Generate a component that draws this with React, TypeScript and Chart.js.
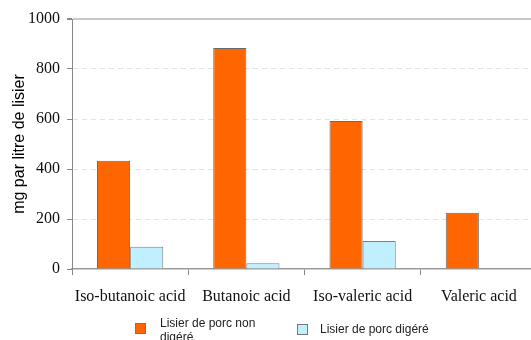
import React, { useEffect, useRef } from "react";
import { Chart, registerables } from "chart.js";

Chart.register(...registerables);

const categories = ["Iso-butanoic acid", "Butanoic acid", "Iso-valeric acid", "Valeric acid"];
const nonDigere = [433, 884, 592, 225];
const digere = [89, 23, 112, null];
const seriesNames = ["Lisier de porc non digéré", "Lisier de porc digéré"];
const yTicks = [0, 200, 400, 600, 800, 1000];
const yTitle = "mg par litre de lisier";

const ORANGE = "#FF6600";
const BLUE = "#C0F0FF";
const SERIF = "'Liberation Serif', 'Times New Roman', serif";
const SANS = "'Liberation Sans', Arial, sans-serif";

const legendPlugin = {
  id: "customLegend",
  afterDraw(chart: any) {
    const ctx = chart.ctx;
    ctx.save();
    ctx.font = "12px " + SANS;
    ctx.textBaseline = "middle";
    ctx.textAlign = "left";
    ctx.strokeStyle = "#777";
    ctx.lineWidth = 1;
    ctx.fillStyle = ORANGE;
    ctx.fillRect(135.5, 323.5, 10, 10);
    ctx.strokeRect(135.5, 323.5, 10, 10);
    ctx.fillStyle = "#222";
    ctx.fillText("Lisier de porc non", 160, 324);
    ctx.fillText("digéré", 160, 338);
    ctx.fillStyle = BLUE;
    ctx.fillRect(297.5, 324.5, 10, 10);
    ctx.strokeRect(297.5, 324.5, 10, 10);
    ctx.fillStyle = "#222";
    ctx.fillText("Lisier de porc digéré", 320, 330);
    ctx.restore();
  },
};

export default function App() {
  const ref = useRef<HTMLCanvasElement>(null);
  useEffect(() => {
    document.body.style.margin = "0";
    const chart = new Chart(ref.current!, {
      type: "bar",
      data: {
        labels: categories,
        datasets: [
          {
            label: seriesNames[0],
            data: nonDigere,
            backgroundColor: ORANGE,
            borderColor: "#6a6a6a",
            borderWidth: 1,
            categoryPercentage: 0.57,
            barPercentage: 1,
          },
          {
            label: seriesNames[1],
            data: digere as any,
            backgroundColor: BLUE,
            borderColor: "#808080",
            borderWidth: 1,
            categoryPercentage: 0.57,
            barPercentage: 1,
          },
        ],
      },
      options: {
        animation: false,
        responsive: false,
        layout: { padding: { top: 19, right: 8, bottom: 0, left: 0 } },
        plugins: {
          legend: { display: false },
          tooltip: { enabled: false },
        },
        scales: {
          x: {
            grid: {
              offset: true,
              drawOnChartArea: false,
              drawTicks: true,
              tickLength: 6,
              tickColor: "#888",
            },
            border: { display: true, color: "#999", width: 1.5 },
            ticks: {
              padding: 12,
              color: "#111",
              font: { family: SERIF, size: 16 },
              maxRotation: 0,
              autoSkip: false,
            },
            afterFit(scale: any) {
              scale.height = 71;
            },
          },
          y: {
            min: 0,
            max: 1000,
            afterBuildTicks(scale: any) {
              scale.ticks = yTicks.map((v) => ({ value: v }));
            },
            grid: {
              color: (c: any) => (c.tick && c.tick.value === 1000 ? "#c8c8c8" : c.tick && c.tick.value === 0 ? "rgba(0,0,0,0)" : "#e4e4e4"),
              lineWidth: (c: any) => (c.tick && c.tick.value === 1000 ? 2 : 1),
              tickLength: 5,
              tickColor: "#888",
            },
            border: {
              display: true,
              color: "#888",
              width: 1,
              dash: (c: any) => (c.tick && c.tick.value === 1000 ? [] : [5, 4]),
            } as any,
            ticks: {
              padding: 7,
              color: "#111",
              font: { family: SERIF, size: 16 },
              callback: (v: any) => String(v),
            },
            title: {
              display: true,
              text: yTitle,
              color: "#000",
              font: { family: SANS, size: 16 },
              padding: { top: 10, bottom: 0 },
            },
            afterFit(scale: any) {
              scale.width = 72;
            },
          },
        },
      },
      plugins: [legendPlugin],
    });
    return () => chart.destroy();
  }, []);
  return (
    <div style={{ width: 531, height: 340, overflow: "hidden", position: "relative" }}>
      <canvas ref={ref} width={545} height={340} style={{ display: "block" }} />
    </div>
  );
}
